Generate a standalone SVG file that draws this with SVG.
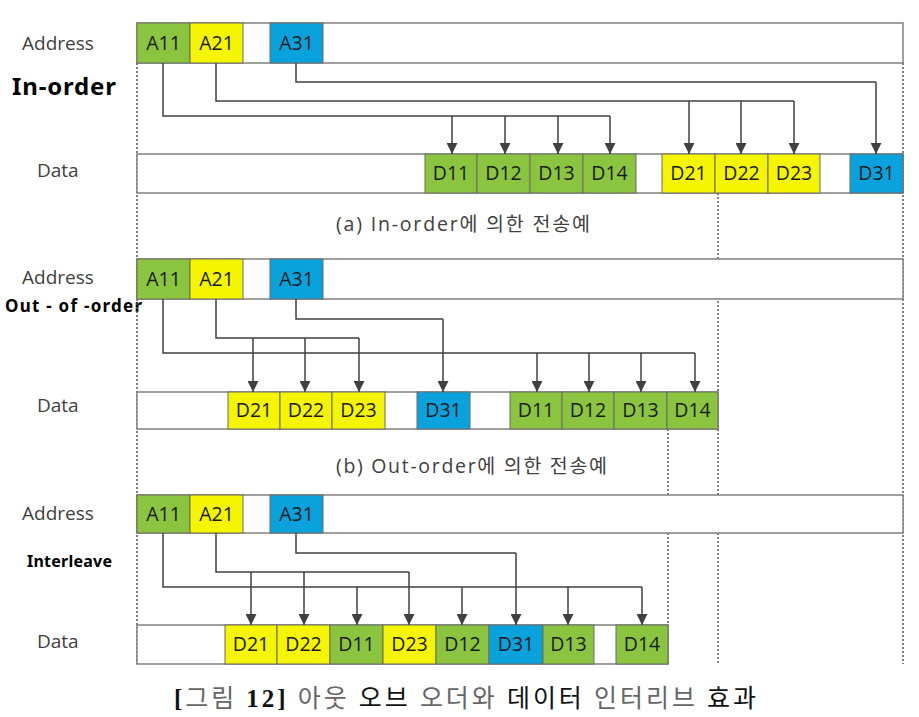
<svg xmlns="http://www.w3.org/2000/svg" width="919" height="717" viewBox="0 0 919 717">
<style>
.bar{fill:#fff;stroke:#808080;stroke-width:1.5}
.g{fill:#8BC53F;stroke:#6a6a6a;stroke-width:1}
.y{fill:#F5F500;stroke:#6a6a6a;stroke-width:1}
.b{fill:#0AA2DC;stroke:#6a6a6a;stroke-width:1}
.ct{font-family:"Open Sans","Liberation Sans",sans-serif;font-size:19.5px;fill:#1a1a1a;text-anchor:middle}
.lb{font-family:"Open Sans","Liberation Sans",sans-serif;font-size:19px;fill:#404040}
.mode{font-family:"Noto Sans","Liberation Sans",sans-serif;font-weight:bold;fill:#000}
.cap{font-family:"Open Sans","Noto Sans CJK KR",sans-serif;font-size:19.5px;fill:#404040}
.fig{font-family:"Liberation Serif","Noto Sans CJK KR",serif;font-size:25px}
.dot{stroke:#555;stroke-width:1.5;stroke-dasharray:2 2;fill:none}
.ln{stroke:#404040;stroke-width:1.5;fill:none}
</style>
<defs>
<marker id="ah" viewBox="0 0 10 10" refX="10" refY="5" markerWidth="11" markerHeight="11" orient="auto" markerUnits="userSpaceOnUse"><path d="M0,0 L10,5 L0,10 z" fill="#404040"/></marker>
</defs>
<rect width="919" height="717" fill="#fff"/>

<g id="labels">
<text class="lb" x="22" y="50">Address</text>
<text class="lb" x="37" y="177">Data</text>
<text class="mode" x="12" y="95" font-size="24" textLength="104">In-order</text>
<text class="lb" x="22" y="284">Address</text>
<text class="lb" x="37" y="412">Data</text>
<text class="mode" x="5" y="312" font-size="17" textLength="137">Out - of -order</text>
<text class="lb" x="22" y="520">Address</text>
<text class="lb" x="37" y="648">Data</text>
<text class="mode" x="27" y="567" font-size="16" textLength="85">Interleave</text>
</g>

<g id="guides">
<line class="dot" x1="137" y1="63" x2="137" y2="664"/>
<line class="dot" x1="903" y1="63" x2="903" y2="664"/>
<line class="dot" x1="718" y1="193" x2="718" y2="664"/>
<line class="dot" x1="668" y1="429" x2="668" y2="664"/>
</g>

<g id="section-a">
<g id="addr-a">
<rect class="bar" x="137" y="23" width="766" height="40"/>
<rect class="g" x="137" y="23" width="53" height="40"/><text class="ct" x="163.5" y="50">A11</text>
<rect class="y" x="190" y="23" width="53" height="40"/><text class="ct" x="216.5" y="50">A21</text>
<rect class="b" x="270" y="23" width="53" height="40"/><text class="ct" x="296.5" y="50">A31</text>
</g>
<g id="data-a">
<rect class="bar" x="137" y="154" width="766" height="39"/>
<rect class="g" x="425" y="154" width="52" height="39"/><text class="ct" x="451" y="180">D11</text>
<rect class="g" x="477" y="154" width="53" height="39"/><text class="ct" x="503.5" y="180">D12</text>
<rect class="g" x="530" y="154" width="53" height="39"/><text class="ct" x="556.5" y="180">D13</text>
<rect class="g" x="583" y="154" width="53" height="39"/><text class="ct" x="609.5" y="180">D14</text>
<rect class="y" x="662" y="154" width="53" height="39"/><text class="ct" x="688.5" y="180">D21</text>
<rect class="y" x="715" y="154" width="53" height="39"/><text class="ct" x="741.5" y="180">D22</text>
<rect class="y" x="768" y="154" width="52" height="39"/><text class="ct" x="794" y="180">D23</text>
<rect class="b" x="850" y="154" width="53" height="39"/><text class="ct" x="876.5" y="180">D31</text>
</g>
<text id="cap-a" class="cap" x="336" y="231" textLength="254">(a)  In-order에 의한 전송예</text>
</g>

<g id="section-b">
<g id="addr-b">
<rect class="bar" x="137" y="259" width="766" height="40"/>
<rect class="g" x="137" y="259" width="53" height="40"/><text class="ct" x="163.5" y="286">A11</text>
<rect class="y" x="190" y="259" width="53" height="40"/><text class="ct" x="216.5" y="286">A21</text>
<rect class="b" x="270" y="259" width="53" height="40"/><text class="ct" x="296.5" y="286">A31</text>
</g>
<g id="data-b">
<rect class="bar" x="137" y="392" width="581" height="37"/>
<rect class="y" x="228" y="392" width="52" height="37"/><text class="ct" x="254" y="417">D21</text>
<rect class="y" x="280" y="392" width="52" height="37"/><text class="ct" x="306" y="417">D22</text>
<rect class="y" x="332" y="392" width="53" height="37"/><text class="ct" x="358.5" y="417">D23</text>
<rect class="b" x="417" y="392" width="53" height="37"/><text class="ct" x="443.5" y="417">D31</text>
<rect class="g" x="510" y="392" width="52" height="37"/><text class="ct" x="536" y="417">D11</text>
<rect class="g" x="562" y="392" width="52" height="37"/><text class="ct" x="588" y="417">D12</text>
<rect class="g" x="614" y="392" width="53" height="37"/><text class="ct" x="640.5" y="417">D13</text>
<rect class="g" x="667" y="392" width="51" height="37"/><text class="ct" x="692.5" y="417">D14</text>
</g>
<text id="cap-b" class="cap" x="336" y="473" textLength="271">(b)  Out-order에 의한 전송예</text>
</g>

<g id="section-c">
<g id="addr-c">
<rect class="bar" x="137" y="495" width="766" height="38"/>
<rect class="g" x="137" y="495" width="53" height="38"/><text class="ct" x="163.5" y="521">A11</text>
<rect class="y" x="190" y="495" width="53" height="38"/><text class="ct" x="216.5" y="521">A21</text>
<rect class="b" x="270" y="495" width="53" height="38"/><text class="ct" x="296.5" y="521">A31</text>
</g>
<g id="data-c">
<rect class="bar" x="137" y="625" width="531" height="39"/>
<rect class="y" x="225" y="625" width="52" height="39"/><text class="ct" x="251" y="651">D21</text>
<rect class="y" x="277" y="625" width="53" height="39"/><text class="ct" x="303.5" y="651">D22</text>
<rect class="g" x="330" y="625" width="53" height="39"/><text class="ct" x="356.5" y="651">D11</text>
<rect class="y" x="383" y="625" width="53" height="39"/><text class="ct" x="409.5" y="651">D23</text>
<rect class="g" x="436" y="625" width="53" height="39"/><text class="ct" x="462.5" y="651">D12</text>
<rect class="b" x="489" y="625" width="54" height="39"/><text class="ct" x="516" y="651">D31</text>
<rect class="g" x="543" y="625" width="51" height="39"/><text class="ct" x="568.5" y="651">D13</text>
<rect class="g" x="616" y="625" width="52" height="39"/><text class="ct" x="642" y="651">D14</text>
</g>
</g>

<g id="connectors">
<path class="ln" d="M163,63 V116 H610"/>
<path class="ln" d="M216,63 V101 H794"/>
<path class="ln" d="M296,63 V82 H876"/>
<path class="ln" marker-end="url(#ah)" d="M452,116 V154"/>
<path class="ln" marker-end="url(#ah)" d="M505,116 V154"/>
<path class="ln" marker-end="url(#ah)" d="M558,116 V154"/>
<path class="ln" marker-end="url(#ah)" d="M610,116 V154"/>
<path class="ln" marker-end="url(#ah)" d="M689,101 V154"/>
<path class="ln" marker-end="url(#ah)" d="M741,101 V154"/>
<path class="ln" marker-end="url(#ah)" d="M794,101 V154"/>
<path class="ln" marker-end="url(#ah)" d="M876,82 V154"/>

<path class="ln" d="M163,299 V353 H695"/>
<path class="ln" d="M216,299 V338 H359"/>
<path class="ln" d="M296,299 V319 H443"/>
<path class="ln" marker-end="url(#ah)" d="M253,338 V392"/>
<path class="ln" marker-end="url(#ah)" d="M305,338 V392"/>
<path class="ln" marker-end="url(#ah)" d="M359,338 V392"/>
<path class="ln" marker-end="url(#ah)" d="M443,319 V392"/>
<path class="ln" marker-end="url(#ah)" d="M537,353 V392"/>
<path class="ln" marker-end="url(#ah)" d="M589,353 V392"/>
<path class="ln" marker-end="url(#ah)" d="M641,353 V392"/>
<path class="ln" marker-end="url(#ah)" d="M695,353 V392"/>

<path class="ln" d="M163,533 V587 H642"/>
<path class="ln" d="M216,533 V572 H409"/>
<path class="ln" d="M296,533 V553 H516"/>
<path class="ln" marker-end="url(#ah)" d="M251,572 V625"/>
<path class="ln" marker-end="url(#ah)" d="M304,572 V625"/>
<path class="ln" marker-end="url(#ah)" d="M409,572 V625"/>
<path class="ln" marker-end="url(#ah)" d="M516,553 V625"/>
<path class="ln" marker-end="url(#ah)" d="M357,587 V625"/>
<path class="ln" marker-end="url(#ah)" d="M462,587 V625"/>
<path class="ln" marker-end="url(#ah)" d="M568,587 V625"/>
<path class="ln" marker-end="url(#ah)" d="M642,587 V625"/>
</g>

<text id="figure-caption" class="fig" x="174" y="707" textLength="582"><tspan fill="#111" font-weight="bold">[</tspan><tspan fill="#666">그림 </tspan><tspan fill="#111" font-weight="bold">12]</tspan><tspan fill="#666"> 아웃 </tspan><tspan fill="#111">오브</tspan><tspan fill="#666"> 오더와 </tspan><tspan fill="#111">데이터</tspan><tspan fill="#666"> 인터리브 </tspan><tspan fill="#111">효과</tspan></text>
</svg>
